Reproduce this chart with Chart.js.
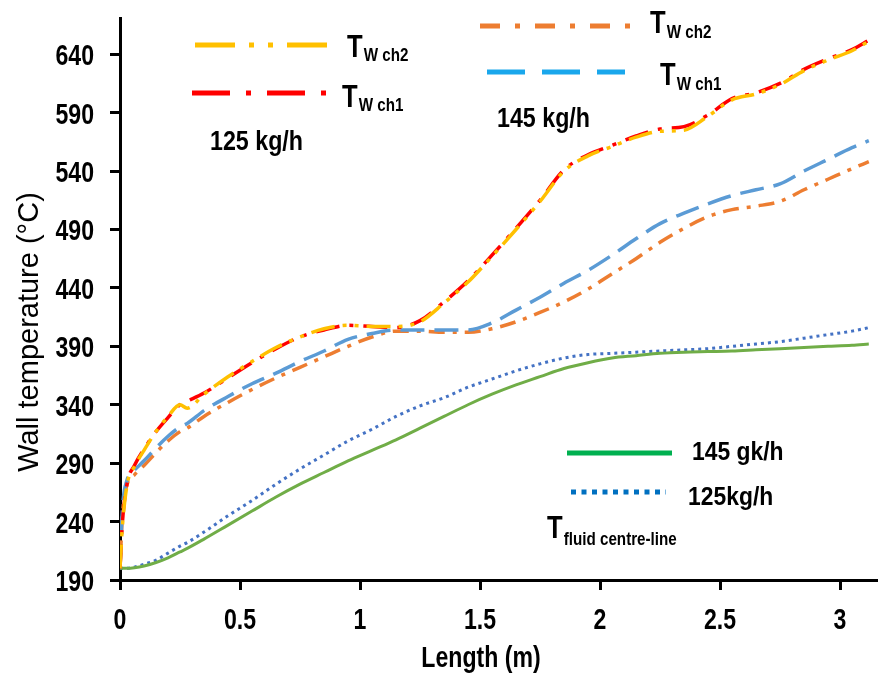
<!DOCTYPE html>
<html>
<head>
<meta charset="utf-8">
<script src="https://cdn.jsdelivr.net/npm/chart.js@4.4.1/dist/chart.umd.min.js"></script>
<style>
  html, body { margin: 0; padding: 0; background: #fff; }
</style>
</head>
<body>
<canvas id="wallChart" width="890" height="674"></canvas>
<script>
// axial position along the channel (m)
const lengthM = [0, 0.01, 0.03, 0.06, 0.1, 0.15, 0.2, 0.25, 0.28, 0.35, 0.45, 0.55, 0.65, 0.75, 0.85, 0.95,
  1.05, 1.15, 1.25, 1.35, 1.45, 1.55, 1.65, 1.75, 1.85, 1.95, 2.05, 2.15, 2.25, 2.35, 2.45, 2.55, 2.65,
  2.75, 2.85, 2.95, 3.05, 3.12];

// wall temperatures, 125 kg/h
const twCh1_125 = [200, 239, 273, 288, 302, 317, 329, 340, 343, 350, 363, 376, 388, 398, 404, 408,
  407, 406, 412, 428, 446, 468, 491, 515, 541, 554, 562, 570, 576, 578, 588, 602, 607,
  615, 627, 636, 644, 652];
const twCh2_125 = [200, 236, 272, 287, 301, 317, 330, 340, 337, 349, 364, 377, 389, 398, 405, 408,
  407, 407, 411, 427, 445, 467, 490, 514, 540, 553, 561, 569, 574, 575, 587, 601, 606,
  614, 626, 635, 643, 651];

// wall temperatures, 145 kg/h
const twCh1_145 = [200, 250, 276, 284, 292, 303, 313, 321, 324, 335, 347, 358, 367, 377, 386, 396,
  401, 404, 404, 404, 404, 410, 421, 432, 444, 455, 468, 482, 495, 504, 512, 519, 524,
  529, 540, 550, 560, 566];
const twCh2_145 = [200, 245, 272, 280, 288, 299, 309, 317, 320, 330, 342, 353, 363, 372, 381, 390,
  398, 403, 403, 402, 402, 405, 411, 419, 428, 439, 452, 465, 479, 491, 501, 507, 510,
  514, 524, 533, 542, 548];

// fluid centre-line temperatures
const fluid145 = [200, 200, 200, 200.5, 202, 205, 209, 214, 217, 225, 237, 249, 261, 272, 282, 292,
  301, 310, 320, 330, 340, 349, 357, 364, 371, 376, 380, 382, 384, 385, 385.5, 386, 387,
  388, 389, 390, 391, 392];
const fluid125 = [200, 200, 200, 201, 203.5, 207, 213, 219, 222, 231, 245, 258, 272, 285, 297, 309,
  319, 330, 339, 346, 355, 362, 369, 375, 380, 383, 384, 385, 386, 387, 388, 390, 392,
  394, 397, 400, 403, 406];

const xTicks = [0, 0.5, 1, 1.5, 2, 2.5, 3];
const yTicks = [190, 240, 290, 340, 390, 440, 490, 540, 590, 640];

const SANS = "'Liberation Sans', Arial, sans-serif";

const pts = ys => lengthM.map((x, i) => ({ x: x, y: ys[i] }));

function line(label, ys, color, dash, width) {
  return {
    label: label,
    data: pts(ys),
    borderColor: color,
    borderWidth: width,
    borderDash: dash,
    pointRadius: 0,
    fill: false,
    cubicInterpolationMode: 'monotone'
  };
}

// the figure uses a condensed bold face; squeeze Liberation Sans to get it
function narrow(ctx, text, x, y, size, align, squeeze) {
  ctx.save();
  ctx.translate(x, y);
  ctx.scale(squeeze || 0.8, 1);
  ctx.font = "bold " + size + "px " + SANS;
  ctx.textAlign = align || 'left';
  ctx.fillText(text, 0, 0);
  const w = ctx.measureText(text).width * (squeeze || 0.8);
  ctx.restore();
  return w;
}

function tSub(ctx, x, y, sub, dy) {
  const w = narrow(ctx, "T", x, y, 32);
  narrow(ctx, sub, x + w + 1, y + dy, 19);
}

function sample(ctx, x1, x2, y, color, dash, width) {
  ctx.beginPath();
  ctx.setLineDash(dash);
  ctx.strokeStyle = color;
  ctx.lineWidth = width;
  ctx.lineCap = 'butt';
  ctx.moveTo(x1, y);
  ctx.lineTo(x2, y);
  ctx.stroke();
}

// tick labels, hand-placed legends and axis titles, as in the source figure
const paperLegend = {
  id: 'paperLegend',
  afterDraw(chart) {
    const ctx = chart.ctx;
    const xs = chart.scales.x, ys = chart.scales.y;
    ctx.save();
    ctx.fillStyle = '#000';
    ctx.textBaseline = 'alphabetic';

    xs.ticks.forEach(t => narrow(ctx, String(t.value), xs.getPixelForValue(t.value), 629, 30, 'center', 0.77));
    ys.ticks.forEach(t => narrow(ctx, String(t.value), 94, ys.getPixelForValue(t.value) + 11, 30, 'right', 0.77));

    // 125 kg/h group
    sample(ctx, 195, 330, 45, '#FFC000', [40, 14, 5, 14, 5, 14], 5);
    sample(ctx, 192, 328, 93, '#FF0000', [38, 16, 5, 16], 5);
    tSub(ctx, 347, 57, "W ch2", 4);
    tSub(ctx, 342, 107, "W ch1", 4);
    narrow(ctx, "125 kg/h", 210, 150, 28, 'left', 0.83);

    // 145 kg/h group
    sample(ctx, 480, 630, 26, '#ED7D31', [20, 15, 5, 15], 5);
    sample(ctx, 487, 625, 72, '#1AA7EC', [38, 17], 5);
    tSub(ctx, 650, 33, "W ch2", 5);
    tSub(ctx, 660, 85, "W ch1", 5);
    narrow(ctx, "145 kg/h", 497, 127, 28, 'left', 0.83);

    // fluid centre-line group
    sample(ctx, 567, 672, 453, '#00B050', [], 5);
    sample(ctx, 571, 666, 492, '#0070C0', [5, 5.5], 5);
    narrow(ctx, "145 gk/h", 692, 460, 26, 'left', 0.88);
    narrow(ctx, "125kg/h", 688, 505, 26, 'left', 0.88);
    tSub(ctx, 547, 538, "fluid centre-line", 7);

    // axis titles
    narrow(ctx, "Length (m)", 481, 667, 30, 'center', 0.77);
    ctx.save();
    ctx.translate(38, 332);
    ctx.rotate(-Math.PI / 2);
    ctx.font = "29px " + SANS;
    ctx.textAlign = 'center';
    ctx.fillText("Wall temperature (\u00B0C)", 0, 0);
    ctx.restore();

    ctx.restore();
  }
};

const ctx = document.getElementById("wallChart").getContext("2d");

const wallChart = new Chart(ctx, {
  type: "line",
  data: {
    datasets: [
      line("Tw ch2 125 kg/h", twCh2_125, '#FFC000', [24, 8, 4, 8, 4, 8], 3.5),
      line("Tw ch1 125 kg/h", twCh1_125, '#FF0000', [24, 10, 4, 10], 3.5),
      line("Tw ch1 145 kg/h", twCh1_145, '#5B9BD5', [24, 10], 3.5),
      line("Tw ch2 145 kg/h", twCh2_145, '#ED7D31', [16, 8, 4, 8], 3.5),
      line("T fluid 145 kg/h", fluid145, '#70AD47', [], 3),
      line("T fluid 125 kg/h", fluid125, '#4472C4', [3, 4], 3)
    ]
  },
  options: {
    responsive: false,
    animation: false,
    layout: { autoPadding: false, padding: { left: 0, top: 18, right: 14, bottom: 0 } },
    plugins: {
      legend: { display: false },
      tooltip: { enabled: false }
    },
    scales: {
      x: {
        type: 'linear',
        min: 0,
        max: 3.15,
        afterBuildTicks: s => { s.ticks = xTicks.map(v => ({ value: v })); },
        afterFit: s => { s.height = 94; },
        border: { display: true, color: '#000', width: 3 },
        grid: { drawOnChartArea: false, drawTicks: true, tickLength: 10, color: '#000', lineWidth: 3 },
        ticks: { display: false }
      },
      y: {
        type: 'linear',
        min: 190,
        max: 671,
        afterBuildTicks: s => { s.ticks = yTicks.map(v => ({ value: v })); },
        afterFit: s => { s.width = 120; },
        border: { display: true, color: '#000', width: 3 },
        grid: { drawOnChartArea: false, drawTicks: true, tickLength: 10, color: '#000', lineWidth: 3 },
        ticks: { display: false }
      }
    }
  },
  plugins: [paperLegend]
});
</script>
</body>
</html>
